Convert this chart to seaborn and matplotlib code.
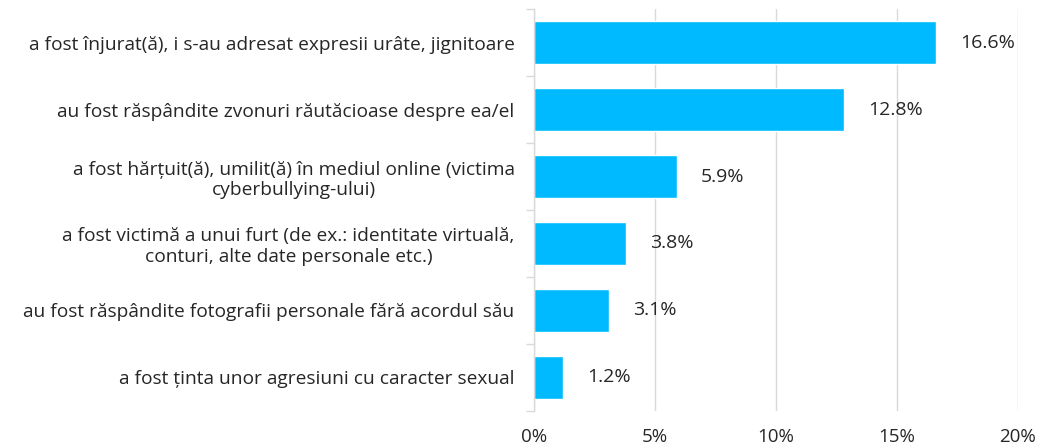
import numpy as np
import pandas as pd
import matplotlib
matplotlib.use("Agg")
import matplotlib.pyplot as plt
import seaborn as sns

# Data
categories = [
    "a fost înjurat(ă), i s-au adresat expresii urâte, jignitoare",
    "au fost răspândite zvonuri răutăcioase despre ea/el",
    "a fost hărțuit(ă), umilit(ă) în mediul online (victima\ncyberbullying-ului)",
    "a fost victimă a unui furt (de ex.: identitate virtuală,\nconturi, alte date personale etc.)",
    "au fost răspândite fotografii personale fără acordul său",
    "a fost ținta unor agresiuni cu caracter sexual",
]
values = [16.6, 12.8, 5.9, 3.8, 3.1, 1.2]
x_ticks = [0, 5, 10, 15, 20]

df = pd.DataFrame({"item": categories, "pct": values})

sns.set_theme(style="white")
plt.rcParams["font.family"] = ["Open Sans", "DejaVu Sans"]

fig = plt.figure(figsize=(10.4, 4.46), dpi=100)
ax = fig.add_axes([0.5135, 0.0785, 0.4653, 0.9013])

sns.barplot(data=df, x="pct", y="item", orient="h", color="#00BAFF",
            saturation=1, width=0.64, ax=ax)

# value labels
for i, v in enumerate(values):
    ax.text(v + 1.0, i, f"{v}%", va="center", ha="left", fontsize=14, color="#262626")

ax.set_xlim(0, 20)
ax.set_ylim(5.5, -0.5)
ax.set_xticks(x_ticks)
ax.set_xticklabels([f"{t}%" for t in x_ticks], fontsize=13.5, color="#262626")
ax.xaxis.grid(True, color="#d9d9d9", linewidth=1)
ax.set_axisbelow(True)
ax.tick_params(axis="x", length=0, pad=12)

# category labels right-aligned, ticks between categories
ax.set_yticks(range(len(categories)))
ax.set_yticklabels(categories, fontsize=13.8, color="#262626", ha="right",
                   multialignment="center")
ax.tick_params(axis="y", which="major", length=0, pad=14)
ax.set_yticks(np.arange(-0.5, len(categories), 1), minor=True)
ax.tick_params(axis="y", which="minor", length=6, color="#d9d9d9", width=1,
               left=True, direction="out")

ax.set_xlabel("")
ax.set_ylabel("")
for s in ["top", "right", "bottom"]:
    ax.spines[s].set_visible(False)
ax.spines["left"].set_color("#d9d9d9")
ax.spines["left"].set_linewidth(1)

fig.savefig("out.png", dpi=100)
